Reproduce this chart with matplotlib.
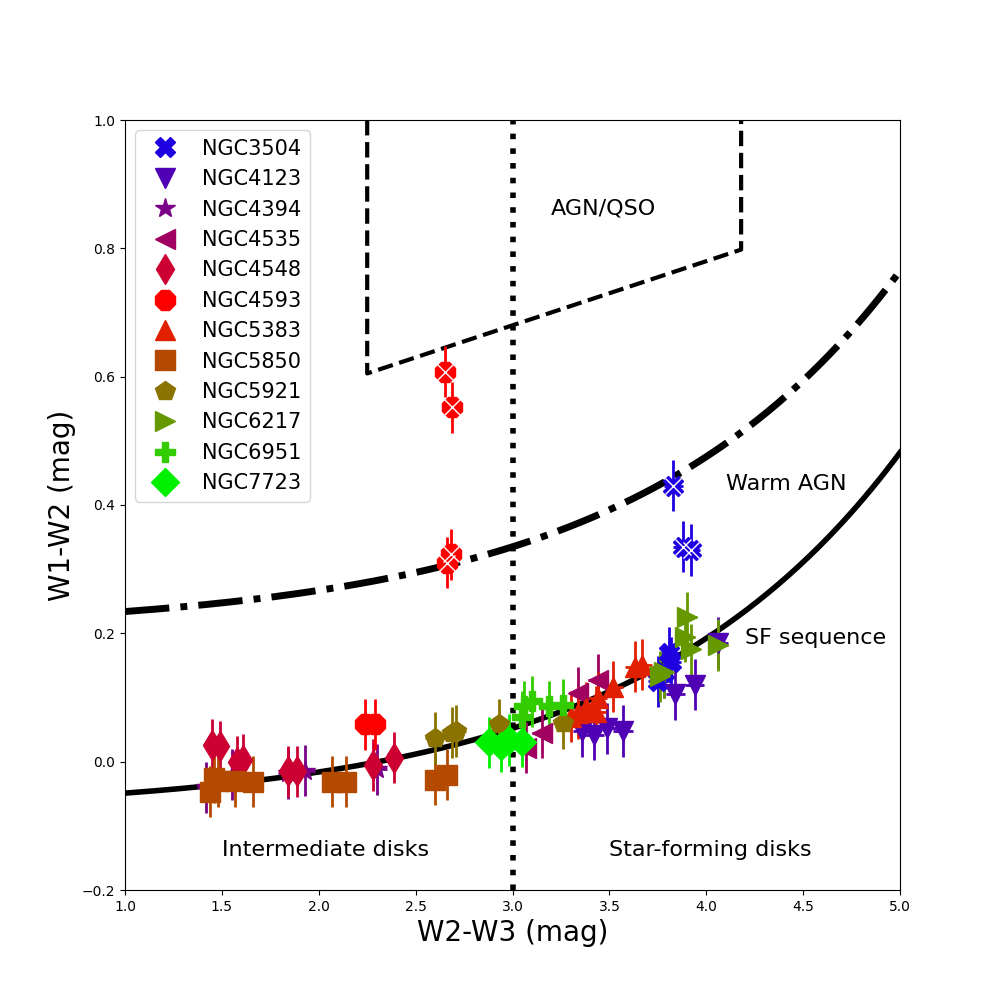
import numpy as np
import matplotlib
matplotlib.use("Agg")
import matplotlib.pyplot as plt
from matplotlib.lines import Line2D

# galaxies, markers and colours (as in the legend)
names = ['NGC3504', 'NGC4123', 'NGC4394', 'NGC4535', 'NGC4548', 'NGC4593',
         'NGC5383', 'NGC5850', 'NGC5921', 'NGC6217', 'NGC6951', 'NGC7723']
markers = ['X', 'v', '*', '<', 'd', '8', '^', 's', 'p', '>', 'P', 'D']
colors = ['#1e00e0', '#5000b4', '#7a0088', '#a00060', '#cc0033', '#ff0000',
          '#e02000', '#b34a00', '#8a7300', '#669900', '#33cc00', '#00f000']

# W2-W3 colours per galaxy
w23 = [
    [3.83, 3.88, 3.92, 3.81, 3.82, 3.78, 3.75],
    [3.36, 3.42, 3.49, 3.57, 3.84, 3.94, 4.06],
    [1.42, 1.55, 1.84, 1.93, 2.30],
    [3.15, 3.34, 3.44, 3.07],
    [1.45, 1.49, 1.58, 1.61, 1.84, 1.89, 2.28, 2.39],
    [2.24, 2.29, 2.65, 2.69, 2.66, 2.68],
    [3.30, 3.34, 3.38, 3.43, 3.44, 3.52, 3.63, 3.67],
    [1.44, 1.46, 1.48, 1.57, 1.66, 2.07, 2.14, 2.60, 2.66],
    [2.60, 2.69, 2.71, 2.93, 3.26],
    [3.76, 3.78, 3.89, 3.90, 3.92, 4.06],
    [3.05, 3.06, 3.10, 3.19, 3.26],
    [2.88, 2.94, 2.98, 3.05],
]
# W1-W2 colours per galaxy
w12 = [
    [0.43, 0.335, 0.33, 0.17, 0.155, 0.14, 0.125],
    [0.048, 0.042, 0.052, 0.048, 0.105, 0.12, 0.185],
    [-0.04, -0.02, -0.018, -0.014, -0.012],
    [0.045, 0.107, 0.128, 0.022],
    [0.026, 0.024, 0.0, 0.003, -0.015, -0.015, -0.005, 0.006],
    [0.058, 0.058, 0.608, 0.552, 0.31, 0.323],
    [0.07, 0.076, 0.084, 0.078, 0.10, 0.117, 0.148, 0.151],
    [-0.047, -0.025, -0.03, -0.03, -0.031, -0.031, -0.031, -0.028, -0.02],
    [0.037, 0.045, 0.048, 0.058, 0.06],
    [0.133, 0.14, 0.195, 0.225, 0.175, 0.182],
    [0.07, 0.086, 0.094, 0.086, 0.089],
    [0.03, 0.024, 0.034, 0.031],
]
w23_err = [0.05, 0.05, 0.05, 0.05, 0.04, 0.05, 0.05, 0.05, 0.05, 0.05, 0.05, 0.05]
w12_err = [0.04, 0.04, 0.04, 0.04, 0.04, 0.04, 0.04, 0.04, 0.04, 0.04, 0.04, 0.04]


def sf_sequence(x):
    """Jarrett et al. star-forming sequence"""
    return 0.015 * np.exp(x / 1.38) - 0.08


fig, ax = plt.subplots(figsize=(10, 10), dpi=100)

handles = []
for i, name in enumerate(names):
    x = np.array(w23[i])
    y = np.array(w12[i])
    ms = 15 if markers[i] != 'D' else 14
    ax.errorbar(x, y, xerr=w23_err[i], yerr=w12_err[i], fmt=markers[i],
                color=colors[i], ms=ms, elinewidth=2, capsize=0, zorder=3)
    # white cross on the AGN-like points
    hot = y > 0.25
    if hot.any():
        ax.plot(x[hot], y[hot], 'x', color='white', ms=12, mew=1, zorder=4)
    handles.append(Line2D([], [], ls='', marker=markers[i], color=colors[i],
                          ms=ms, label=name))

xx = np.linspace(1.0, 5.0, 300)
ax.plot(xx, sf_sequence(xx), color='black', lw=4, zorder=2)
ax.plot(xx, sf_sequence(xx) + 0.283, color='black', lw=5, ls='-.', zorder=2)

# AGN/QSO box
box_x = [2.25, 2.25, 4.18, 4.18]
box_y = [1.0, 0.605, 0.798, 1.0]
ax.plot(box_x, box_y, color='black', lw=3, ls='--', zorder=2)
ax.axvline(3.0, color='black', lw=4, ls=':', zorder=2)

ax.text(3.2, 0.862, 'AGN/QSO', fontsize=16, va='center')
ax.text(4.1, 0.433, 'Warm AGN', fontsize=16, va='center')
ax.text(4.2, 0.193, 'SF sequence', fontsize=16, va='center')
ax.text(1.5, -0.137, 'Intermediate disks', fontsize=16, va='center')
ax.text(3.5, -0.137, 'Star-forming disks', fontsize=16, va='center')

ax.set_xlim(1.0, 5.0)
ax.set_ylim(-0.2, 1.0)
ax.set_yticks(np.arange(-0.2, 1.01, 0.2))
ax.set_xlabel('W2-W3 (mag)', fontsize=20)
ax.set_ylabel('W1-W2 (mag)', fontsize=20)

ax.legend(handles=handles, loc='upper left', fontsize=15, numpoints=1)

fig.savefig('out.png', dpi=100)
